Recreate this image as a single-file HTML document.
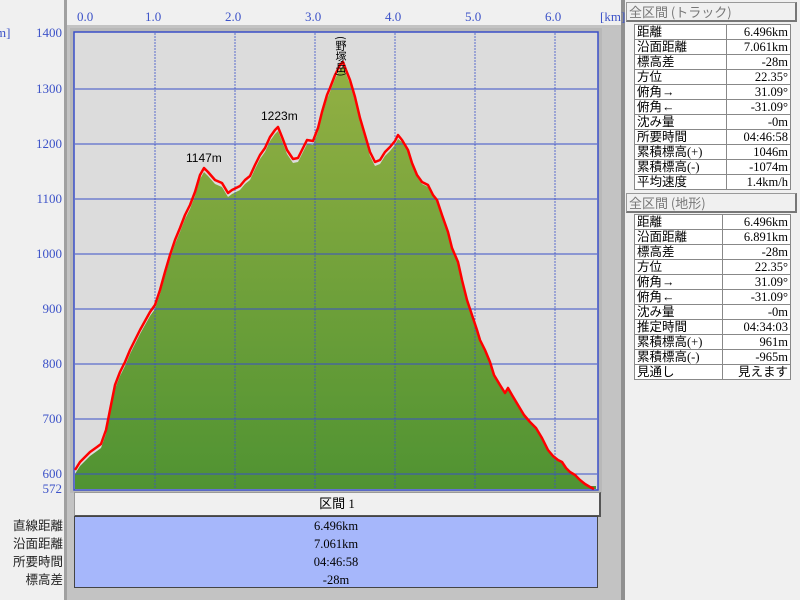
<!DOCTYPE html>
<html><head><meta charset="utf-8"><style>
body{margin:0;width:800px;height:600px;overflow:hidden;background:#f0f0f0;font-family:"Liberation Serif","Noto Sans CJK JP",serif;position:relative}
.a{position:absolute}
.blue{color:#3c52c8;font-family:"Liberation Serif",serif;font-size:13px}
table{border-collapse:collapse;font-size:12.5px}
td{border:1px solid #888;padding:0 2px;height:14px;line-height:14px;white-space:nowrap}
td.r{text-align:right}
.hd{background:#f0f0f0;border:1px solid #999;border-right:2px solid #777;border-bottom:2px solid #777;color:#777;font-size:13px;padding-left:2px;line-height:17px;font-family:"Noto Sans CJK JP",sans-serif}
</style></head><body>
<div class="a" style="left:64px;top:0;width:3px;height:600px;background:#a0a0a0"></div>
<div class="a" style="left:67px;top:25px;width:556px;height:575px;background:#c3c3c3"></div>
<div class="a" style="left:621px;top:0;width:4px;height:600px;background:#909090"></div>
<div class="a blue" style="left:-4px;top:25px">m]</div>
<div class="a blue" style="left:77px;top:9px">0.0</div>
<div class="a blue" style="left:145px;top:9px">1.0</div>
<div class="a blue" style="left:225px;top:9px">2.0</div>
<div class="a blue" style="left:305px;top:9px">3.0</div>
<div class="a blue" style="left:385px;top:9px">4.0</div>
<div class="a blue" style="left:465px;top:9px">5.0</div>
<div class="a blue" style="left:545px;top:9px">6.0</div>
<div class="a blue" style="left:600px;top:9px">[km]</div>
<div class="a blue" style="right:738px;top:25px">1400</div>
<div class="a blue" style="right:738px;top:81px">1300</div>
<div class="a blue" style="right:738px;top:136px">1200</div>
<div class="a blue" style="right:738px;top:191px">1100</div>
<div class="a blue" style="right:738px;top:246px">1000</div>
<div class="a blue" style="right:738px;top:301px">900</div>
<div class="a blue" style="right:738px;top:356px">800</div>
<div class="a blue" style="right:738px;top:411px">700</div>
<div class="a blue" style="right:738px;top:466px">600</div>
<div class="a blue" style="right:738px;top:481px">572</div>
<svg class="a" style="left:0;top:0" width="800" height="600">
<defs><linearGradient id="g" x1="0" y1="0" x2="0" y2="1"><stop offset="0" stop-color="#93b043"/><stop offset="1" stop-color="#509332"/></linearGradient></defs>
<rect x="70" y="28" width="532" height="465" fill="#b8b8b8"/>
<rect x="74" y="32" width="524" height="458" fill="#dcdcdc" stroke="#3a4fc8" stroke-width="1.5"/>
<polygon fill="url(#g)" points="75,489 75,474 80,466 90,456 97,451 101,448 106,434 110,414 115,389 120,376 125,366 130,354 140,334 150,316 155,309 160,294 165,276 170,259 175,244 180,232 185,219 190,209 195,196 200,179 204,172 208,176 215,184 222,187 228,197 232,194 240,190 245,184 250,180 255,169 260,159 265,152 270,141 275,134 278,131 282,141 287,154 293,163 298,162 303,152 307,144 313,145 318,132 322,116 327,99 330,92 335,79 340,69 343,66 346,74 350,84 355,101 360,122 365,139 370,156 375,166 380,164 385,156 390,151 395,145 398,139 402,142 408,152 412,165 417,177 422,184 428,187 433,196 437,201 442,216 448,233 452,249 458,263 462,281 467,301 472,316 477,331 480,341 485,351 490,363 494,376 500,386 505,394 508,389 512,396 518,406 524,416 530,423 536,429 542,439 548,451 553,457 558,461 562,463 566,469 570,473 575,476 580,481 585,485 590,486 596,486 596,489"/>
<g stroke="#3a4fc8" stroke-width="1" fill="none">
<path d="M75 89H597M75 144H597M75 199H597M75 254H597M75 309H597M75 364H597M75 419H597M75 474H597"/>
<path d="M155 33V489M235 33V489M315 33V489M395 33V489M475 33V489M555 33V489" stroke-dasharray="2,1" opacity=".8"/>
</g>
<polyline fill="none" stroke="#f00" stroke-width="2.5" stroke-linejoin="round" points="75,470 80,462 90,452 97,447 101,444 106,430 110,410 115,385 120,372 125,362 130,350 140,330 150,312 155,305 160,290 165,272 170,255 175,240 180,228 185,215 190,205 195,192 200,175 204,168 208,172 215,180 222,183 228,193 232,190 240,186 245,180 250,176 255,165 260,155 265,148 270,137 275,130 278,127 282,137 287,150 293,159 298,158 303,148 307,140 313,141 318,128 322,112 327,95 330,88 335,75 340,65 343,62 346,70 350,80 355,97 360,118 365,135 370,152 375,162 380,160 385,152 390,147 395,141 398,135 402,140 408,150 412,163 417,175 422,182 428,185 433,195 437,200 442,215 448,232 452,248 458,262 462,280 467,300 472,315 477,330 480,340 485,350 490,362 494,375 500,385 505,393 508,388 512,395 518,405 524,415 530,422 536,428 542,438 548,450 553,456 558,460 562,462 566,468 570,472 575,475 580,480 585,484 590,487 594,489"/>
<text x="186" y="162" font-family="Liberation Sans" font-size="12">1147m</text>
<text x="261" y="120" font-family="Liberation Sans" font-size="12">1223m</text>
<text x="341" y="36" font-family="Noto Sans CJK JP" font-size="11" writing-mode="tb" text-anchor="start">(野塚岳)</text>
</svg>
<div class="a" style="left:74px;top:492px;width:524px;height:22px;background:#f0f0f0;border:1px solid #999;border-right:2px solid #555;border-bottom:2px solid #555;text-align:center;line-height:22px;font-size:13px">区間 1</div>
<div class="a" style="left:74px;top:516px;width:522px;height:70px;background:#a6b7fb;border:1px solid #444;text-align:center;font-size:12.5px;line-height:18px">6.496km<br>7.061km<br>04:46:58<br>-28m</div>
<div class="a" style="right:737px;top:516px;text-align:right;font-size:12.5px;line-height:18px;font-family:'Noto Sans CJK JP',sans-serif;color:#222">直線距離<br>沿面距離<br>所要時間<br>標高差</div>
<div class="a hd" style="left:626px;top:2px;width:166px">全区間 (トラック)</div>
<table class="a" style="left:634px;top:24px;width:157px;background:#fff">
<tr><td>距離</td><td class="r">6.496km</td></tr>
<tr><td>沿面距離</td><td class="r">7.061km</td></tr>
<tr><td>標高差</td><td class="r">-28m</td></tr>
<tr><td>方位</td><td class="r">22.35°</td></tr>
<tr><td>俯角→</td><td class="r">31.09°</td></tr>
<tr><td>俯角←</td><td class="r">-31.09°</td></tr>
<tr><td>沈み量</td><td class="r">-0m</td></tr>
<tr><td>所要時間</td><td class="r">04:46:58</td></tr>
<tr><td>累積標高(+)</td><td class="r">1046m</td></tr>
<tr><td>累積標高(-)</td><td class="r">-1074m</td></tr>
<tr><td>平均速度</td><td class="r">1.4km/h</td></tr>
</table>
<div class="a hd" style="left:626px;top:193px;width:166px">全区間 (地形)</div>
<table class="a" style="left:634px;top:214px;width:157px;background:#fff">
<tr><td>距離</td><td class="r">6.496km</td></tr>
<tr><td>沿面距離</td><td class="r">6.891km</td></tr>
<tr><td>標高差</td><td class="r">-28m</td></tr>
<tr><td>方位</td><td class="r">22.35°</td></tr>
<tr><td>俯角→</td><td class="r">31.09°</td></tr>
<tr><td>俯角←</td><td class="r">-31.09°</td></tr>
<tr><td>沈み量</td><td class="r">-0m</td></tr>
<tr><td>推定時間</td><td class="r">04:34:03</td></tr>
<tr><td>累積標高(+)</td><td class="r">961m</td></tr>
<tr><td>累積標高(-)</td><td class="r">-965m</td></tr>
<tr><td>見通し</td><td class="r">見えます</td></tr>
</table>
</body></html>
